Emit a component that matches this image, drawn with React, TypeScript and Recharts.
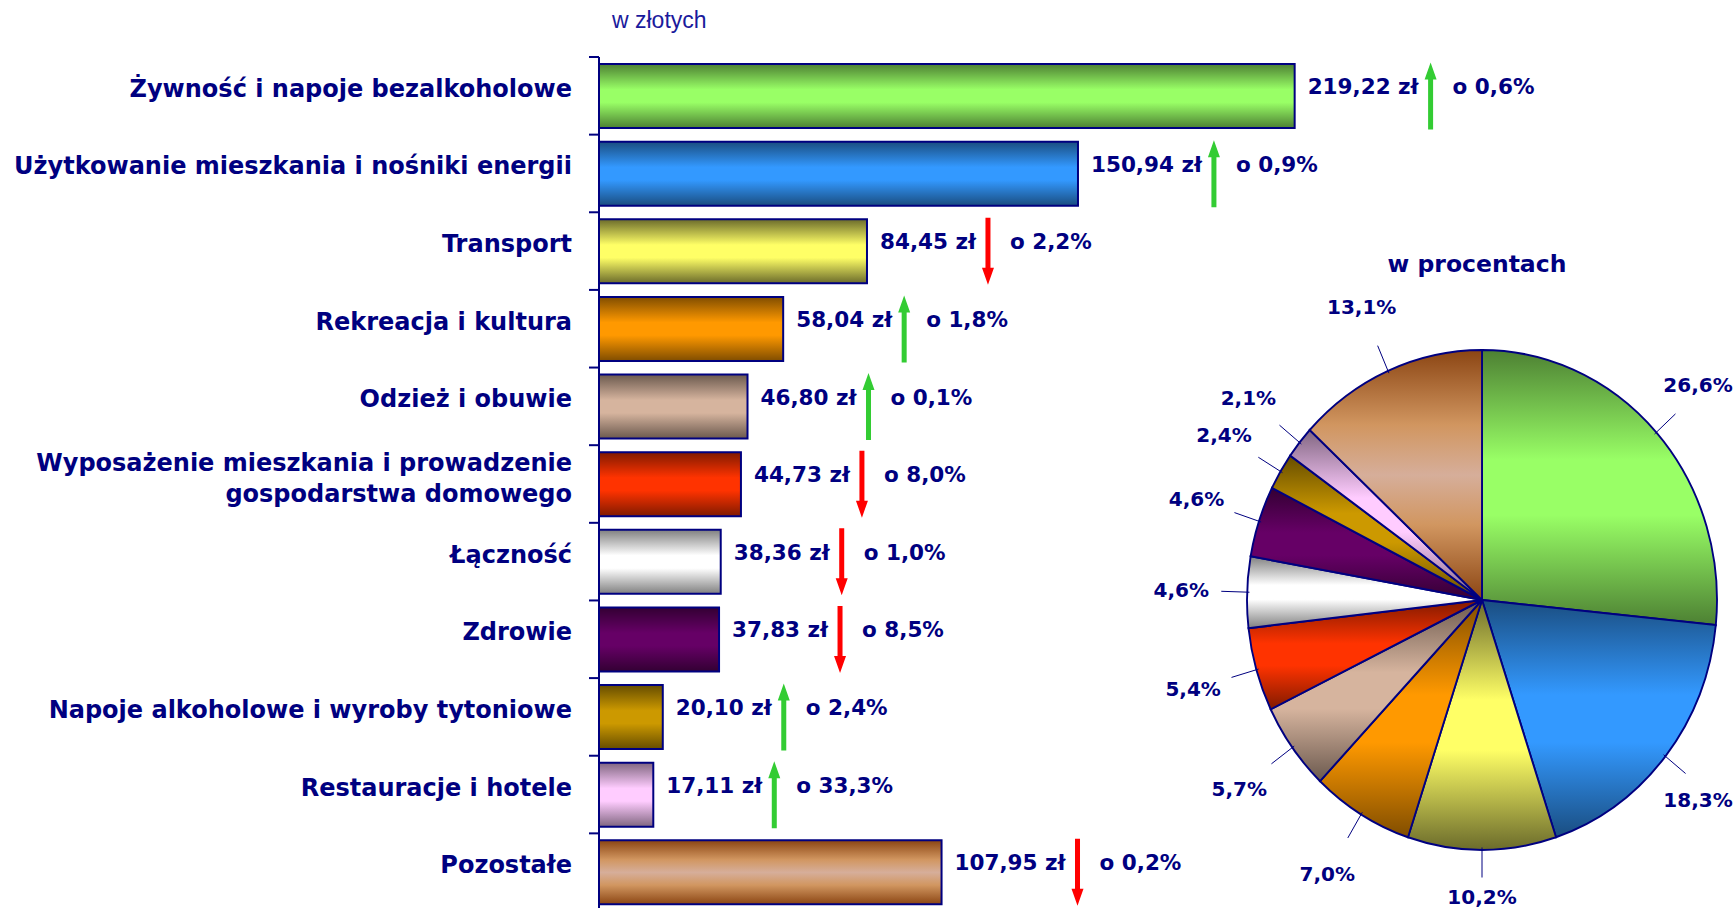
import React from 'react';
import { BarChart, Bar, XAxis, YAxis, LabelList, Cell, PieChart, Pie } from 'recharts';

const categories = [
  'Żywność i napoje bezalkoholowe',
  'Użytkowanie mieszkania i nośniki energii',
  'Transport',
  'Rekreacja i kultura',
  'Odzież i obuwie',
  'Wyposażenie mieszkania i prowadzenie\ngospodarstwa domowego',
  'Łączność',
  'Zdrowie',
  'Napoje alkoholowe i wyroby tytoniowe',
  'Restauracje i hotele',
  'Pozostałe',
];
// wydatki w zł
const amounts = [219.22, 150.94, 84.45, 58.04, 46.8, 44.73, 38.36, 37.83, 20.1, 17.11, 107.95];
// zmiana w %, znak = kierunek strzałki
const changes = [0.6, 0.9, -2.2, 1.8, 0.1, -8.0, -1.0, -8.5, 2.4, 33.3, -0.2];
// udział w %
const shares = [26.6, 18.3, 10.2, 7.0, 5.7, 5.4, 4.6, 4.6, 2.4, 2.1, 13.1];

// [brzeg, środek] gradientu
const palette: string[][] = [
  ['#4d8033', '#99ff66'],
  ['#1a4d80', '#3399ff'],
  ['#6b6b2b', '#ffff66'],
  ['#804d00', '#ff9900'],
  ['#6b594e', '#d6b49e'],
  ['#801a00', '#ff3300'],
  ['#808080', '#ffffff'],
  ['#330033', '#660066'],
  ['#664d00', '#cc9900'],
  ['#806680', '#ffccff'],
  ['#8b4513', '#d6ae9a', '#d19660'],
];

const NAVY = '#000080';
const FONT = "'DejaVu Sans', Verdana, sans-serif";
const AXIS_X = 599;
const CHART_H = 911;
const TOP = 57;
const BAND = (CHART_H - TOP) / categories.length;

const barData = categories.map((name, i) => ({ name, amount: amounts[i] }));
const pieData = categories.map((name, i) => ({ name, value: shares[i] }));

const pl = (v: number, d: number) => v.toFixed(d).replace('.', ',');

let ctx: CanvasRenderingContext2D | null = null;
const measure = (s: string, font: string) => {
  if (!ctx) ctx = document.createElement('canvas').getContext('2d');
  if (!ctx) return s.length * 12;
  ctx.font = font;
  return ctx.measureText(s).width;
};

const stopsFor = (p: string[]) =>
  p.length === 3
    ? [[0, p[0]], [0.3, p[2]], [0.5, p[1]], [0.7, p[2]], [1, p[0]]]
    : [[0, p[0]], [0.4, p[1]], [0.6, p[1]], [1, p[0]]];

const Arrow = ({ x, cy, up }: { x: number; cy: number; up: boolean }) => {
  const len = 67, head = 17, hw = 6, sw = 2.5;
  const top = cy - len / 2, bot = cy + len / 2;
  const d = up
    ? `M${x},${top} L${x + hw},${top + head} L${x + sw},${top + head} L${x + sw},${bot} L${x - sw},${bot} L${x - sw},${top + head} L${x - hw},${top + head} Z`
    : `M${x},${bot} L${x + hw},${bot - head} L${x + sw},${bot - head} L${x + sw},${top} L${x - sw},${top} L${x - sw},${bot - head} L${x - hw},${bot - head} Z`;
  return <path d={d} fill={up ? '#33cc33' : '#ff0000'} />;
};

const renderValue = (props: any) => {
  const { x, y, width, height } = props;
  const i = props.index ?? amounts.indexOf(props.value);
  const cy = Number(y) + Number(height) / 2;
  const x0 = Number(x) + Number(width) + 13;
  const label = `${pl(amounts[i], 2)} zł`;
  const w = measure(label, `bold 21.5px ${FONT}`);
  const ax = x0 + w + 12;
  const pct = `o ${pl(Math.abs(changes[i]), 1)}%`;
  return (
    <g>
      <text x={x0} y={cy - 2} fill={NAVY} fontFamily={FONT} fontWeight="bold" fontSize={21.5}>
        {label}
      </text>
      <Arrow x={ax} cy={cy} up={changes[i] > 0} />
      <text x={ax + 22} y={cy - 2} fill={NAVY} fontFamily={FONT} fontWeight="bold" fontSize={21.5}>
        {pct}
      </text>
    </g>
  );
};

const renderTick = (props: any) => {
  const { y, payload } = props;
  const lines = String(payload.value).split('\n');
  const first = lines.length > 1 ? y - 13 : y + 1;
  return (
    <g>
      <line x1={AXIS_X - 10} x2={AXIS_X} y1={y - BAND / 2} y2={y - BAND / 2} stroke={NAVY} strokeWidth={2} />
      <text textAnchor="end" fill={NAVY} fontFamily={FONT} fontWeight="bold" fontSize={24}>
        {lines.map((l, k) => (
          <tspan key={k} x={572} y={first + k * 31}>
            {l}
          </tspan>
        ))}
      </text>
    </g>
  );
};

const PIE_W = 635;
const PIE_H = 708;
const PIE_CX = 382;
const PIE_CY = 400;
const RY = 250;
const RX = 235;
const RAD = Math.PI / 180;

const renderPieLabel = (props: any) => {
  const cx = props.cx ?? PIE_CX;
  const cy = props.cy ?? PIE_CY;
  const a = -props.midAngle * RAD;
  const c = Math.cos(a), s = Math.sin(a);
  const pt = (f: number) => [cx + RX * f * c, cy + RY * f * s];
  const [x1, y1] = pt(0.99);
  const [x2, y2] = pt(1.11);
  let [tx, ty] = pt(1.28);
  tx = Math.min(tx, PIE_W - 37);
  ty = Math.min(ty, PIE_H - 11);
  return (
    <g>
      <line x1={x1} y1={y1} x2={x2} y2={y2} stroke={NAVY} strokeWidth={1} />
      <text x={tx} y={ty + 7} textAnchor="middle" fill={NAVY} fontFamily={FONT} fontWeight="bold" fontSize={20}>
        {`${pl(shares[props.index], 1)}%`}
      </text>
    </g>
  );
};

export default function App() {
  return (
    <div style={{ position: 'absolute', left: 0, top: 0, width: 1735, height: 908, overflow: 'hidden', background: '#fff' }}>
      <style>{`.ellipse-pie .recharts-sector { transform-box: view-box; transform-origin: ${PIE_CX}px ${PIE_CY}px; transform: scaleX(${RX / RY}); }`}</style>
      <svg width={1735} height={908} style={{ position: 'absolute', left: 0, top: 0 }}>
        <defs>
          {palette.map((p, i) => (
            <linearGradient key={i} id={`g${i}`} x1="0" y1="0" x2="0" y2="1">
              {stopsFor(p).map(([o, col], k) => (
                <stop key={k} offset={o as number} stopColor={col as string} />
              ))}
            </linearGradient>
          ))}
        </defs>
        <text x={612} y={28} fill="#1a1a9c" fontFamily="'Liberation Sans', Arial, sans-serif" fontSize={23}>
          w złotych
        </text>
        <text x={1477} y={272} textAnchor="middle" fill={NAVY} fontFamily={FONT} fontWeight="bold" fontSize={23.5}>
          w procentach
        </text>
      </svg>
      <div style={{ position: 'absolute', left: 0, top: 0 }}>
        <BarChart
          layout="vertical"
          width={1551}
          height={CHART_H}
          data={barData}
          margin={{ top: TOP, right: 0, bottom: 0, left: 0 }}
          barCategoryGap={0}
        >
          <XAxis type="number" domain={[0, 300]} hide />
          <YAxis
            type="category"
            dataKey="name"
            width={AXIS_X}
            axisLine={{ stroke: NAVY, strokeWidth: 2 }}
            tickLine={false}
            tick={renderTick}
            interval={0}
          />
          <Bar dataKey="amount" barSize={64} stroke={NAVY} strokeWidth={2} isAnimationActive={false}>
            {amounts.map((_, i) => (
              <Cell key={i} fill={`url(#g${i})`} />
            ))}
            <LabelList dataKey="amount" content={renderValue} />
          </Bar>
        </BarChart>
      </div>
      <div className="ellipse-pie" style={{ position: 'absolute', left: 1100, top: 200 }}>
        <PieChart width={PIE_W} height={PIE_H} margin={{ top: 0, right: 0, bottom: 0, left: 0 }}>
          <Pie
            data={pieData}
            dataKey="value"
            cx={PIE_CX}
            cy={PIE_CY}
            outerRadius={RY}
            startAngle={90}
            endAngle={-270}
            stroke={NAVY}
            strokeWidth={2}
            label={renderPieLabel}
            labelLine={false}
            isAnimationActive={false}
          >
            {shares.map((_, i) => (
              <Cell key={i} fill={`url(#g${i})`} />
            ))}
          </Pie>
        </PieChart>
      </div>
    </div>
  );
}
